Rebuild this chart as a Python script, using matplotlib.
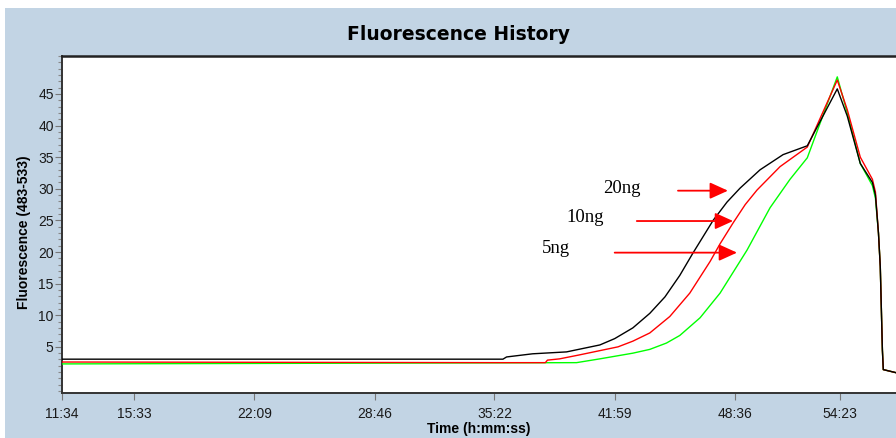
import matplotlib
matplotlib.use("Agg")
import matplotlib.pyplot as plt
from matplotlib.patches import Rectangle
from matplotlib.ticker import MultipleLocator, FixedLocator

# ---- data (time in seconds, fluorescence units) ----
tick_seconds = [694, 933, 1329, 1726, 2122, 2519, 2916, 3263]
tick_labels = ["11:34", "15:33", "22:09", "28:46", "35:22", "41:59", "48:36", "54:23"]
y_ticks = [5, 10, 15, 20, 25, 30, 35, 40, 45]

t_20ng = [694, 2150, 2162, 2248, 2360, 2470, 2519, 2579, 2635, 2685, 2734, 2777, 2844,
          2890, 2933, 2999, 3075, 3155, 3254, 3287, 3330, 3370, 3380, 3390, 3396, 3403, 3406, 3449]
f_20ng = [3.05, 3.05, 3.4, 3.9, 4.2, 5.3, 6.3, 8.0, 10.3, 12.9, 16.3, 19.8, 25.0,
          27.9, 30.1, 33.0, 35.4, 36.8, 45.8, 41.5, 34.0, 31.0, 29.0, 23.0, 17.7, 4.5, 1.4, 0.9]

t_10ng = [694, 2150, 2290, 2297, 2337, 2400, 2470, 2530, 2579, 2635, 2701, 2767, 2834, 2867, 2910,
          2950, 2989, 3065, 3155, 3254, 3287, 3330, 3370, 3380, 3390, 3396, 3403, 3406, 3449]
f_10ng = [2.6, 2.5, 2.5, 2.9, 3.1, 3.7, 4.4, 5.0, 5.9, 7.2, 9.8, 13.5, 18.5, 21.3, 24.6,
          27.5, 29.8, 33.5, 36.6, 47.2, 42.5, 35.0, 31.5, 29.5, 23.0, 17.7, 4.5, 1.4, 0.9]

t_5ng = [694, 2393, 2470, 2579, 2635, 2690, 2734, 2801, 2867, 2956, 3032, 3098, 3155,
         3254, 3287, 3330, 3370, 3380, 3390, 3396, 3403, 3406, 3449]
f_5ng = [2.3, 2.5, 3.1, 4.0, 4.6, 5.6, 6.8, 9.6, 13.5, 20.3, 27.0, 31.5, 34.9,
         47.7, 42.0, 34.0, 30.5, 28.5, 23.0, 17.7, 4.5, 1.4, 0.9]

labels = ["20ng", "10ng", "5ng"]
label_pos = [(2542, 30.1), (2420, 25.4), (2324, 20.5)]
arrow_tail = [(2728, 29.7), (2592, 24.9), (2519, 19.9)]
arrow_tip = [(2893, 29.7), (2910, 24.9), (2923, 19.9)]

# ---- figure ----
W, H = 896, 438
fig = plt.figure(figsize=(W / 100, H / 100), dpi=100)
fig.patch.set_facecolor("white")
bg = "#c2d4e4"
fig.patches.append(Rectangle((5 / W, 0), 1, (H - 8) / H, transform=fig.transFigure,
                             facecolor=bg, edgecolor="none", zorder=-10))

xmin, xmax = 694, 3500
pxps = (840 - 62) / (3263 - 694)
ax = fig.add_axes([62 / W, (H - 393) / H, (xmax - xmin) * pxps / W, (393 - 56) / H])
ax.set_facecolor("white")

ax.plot(t_5ng, f_5ng, color="#00ff00", lw=1.0, zorder=3)
ax.plot(t_10ng, f_10ng, color="#ff0000", lw=1.0, zorder=4)
ax.plot(t_20ng, f_20ng, color="#000000", lw=1.0, zorder=5)

ax.set_xlim(xmin, xmax)
ax.set_ylim(-2.3, 51)
ax.xaxis.set_major_locator(FixedLocator(tick_seconds))
ax.set_xticklabels(tick_labels)
ax.set_yticks(y_ticks)
ax.yaxis.set_minor_locator(MultipleLocator(1))

for lab in ax.get_xticklabels() + ax.get_yticklabels():
    lab.set_fontfamily("Liberation Sans")
    lab.set_fontsize(10)
    lab.set_color("#1a1a1a")
ax.tick_params(axis="x", which="major", direction="out", length=5, width=0.8, color="#777777", pad=5)
ax.tick_params(axis="y", which="major", direction="out", length=5, width=0.8, color="#777777", pad=1)
ax.tick_params(axis="y", which="minor", direction="out", length=3, width=0.8, color="#888888")

for s in ["left", "bottom"]:
    ax.spines[s].set_color("#333333")
    ax.spines[s].set_linewidth(1.4)
ax.spines["top"].set_color("#222222")
ax.spines["top"].set_linewidth(1.8)
ax.spines["right"].set_visible(False)

for lab, (tx, ty), tail, tip in zip(labels, label_pos, arrow_tail, arrow_tip):
    ax.text(tx, ty, lab, fontfamily="Liberation Serif", fontsize=13.5, ha="center", va="center",
            color="black", zorder=6)
    ax.annotate("", xy=tip, xytext=tail,
                arrowprops=dict(arrowstyle="-|>,head_length=1.1,head_width=0.5",
                                color="#ff0000", lw=1.3, shrinkA=0, shrinkB=0), zorder=6)

fig.text(458 / W, 1 - 34 / H, "Fluorescence History", ha="center", va="center",
         fontfamily="DejaVu Sans", fontweight="bold", fontsize=13.5, color="black")
fig.text(479 / W, 1 - 429 / H, "Time (h:mm:ss)", ha="center", va="center",
         fontfamily="Liberation Sans", fontweight="bold", fontsize=10, color="black")
fig.text(24 / W, 1 - 232 / H, "Fluorescence (483-533)", ha="center", va="center", rotation=90,
         fontfamily="Liberation Sans", fontweight="bold", fontsize=10, color="black")

fig.savefig("out.png", dpi=100, facecolor=fig.get_facecolor())
